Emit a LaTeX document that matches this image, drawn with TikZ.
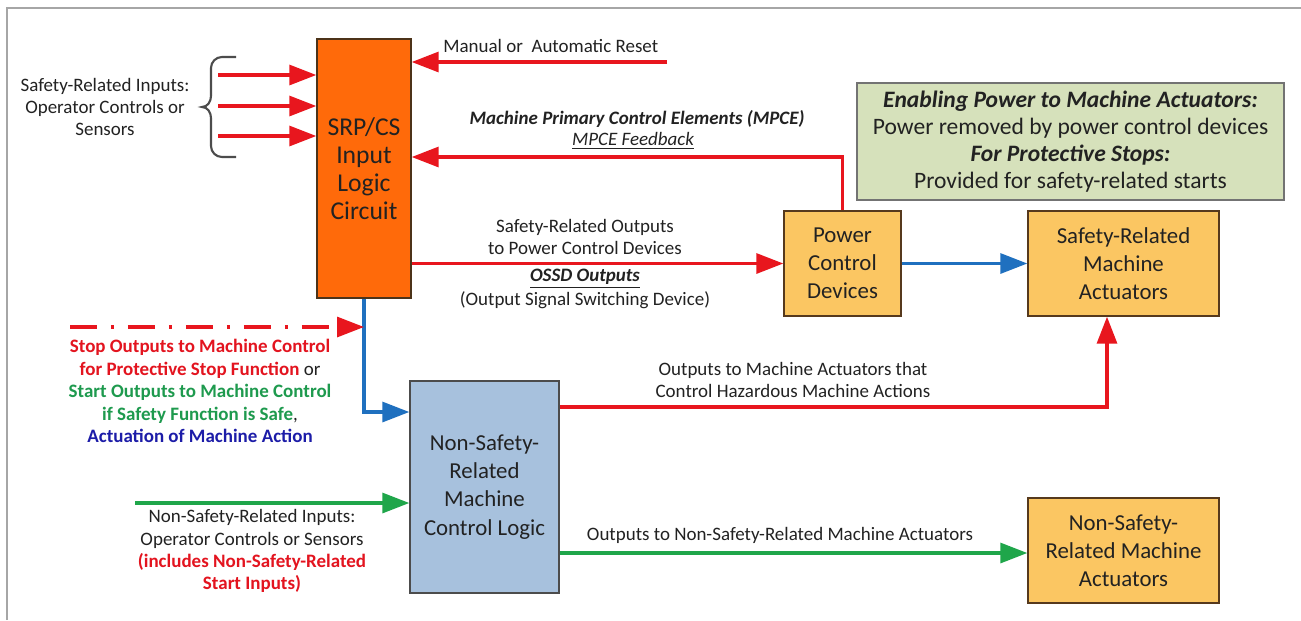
\documentclass[tikz,border=0pt]{standalone}
\usepackage{fontspec}
\setmainfont{Carlito}
\usetikzlibrary{arrows.meta}
\definecolor{cred}{HTML}{E8161E}
\definecolor{cgreen}{HTML}{1FA64A}
\definecolor{cblue}{HTML}{1F70BF}
\definecolor{corange}{HTML}{FF6A0A}
\definecolor{cyellow}{HTML}{FBC662}
\definecolor{clblue}{HTML}{A7C1DD}
\definecolor{colive}{HTML}{D6E1BB}
\definecolor{ctxtred}{HTML}{E3141F}
\definecolor{ctxtgreen}{HTML}{1E9A4E}
\definecolor{ctxtblue}{HTML}{1C1CA8}
\definecolor{ctxt}{HTML}{222222}
\tikzset{
  box/.style={draw=black!75, line width=0.8pt, align=center, inner sep=0pt, text=ctxt,
    font=\fontsize{13}{16}\selectfont},
  lbl/.style={align=center, inner sep=0pt, text=ctxt, font=\fontsize{10.8}{12.6}\selectfont},
  conn/.style={line width=1.8pt, -{Triangle[length=0.54cm,width=0.4cm]}},
  redarrow/.style={conn, draw=cred},
  greenarrow/.style={conn, draw=cgreen},
  bluearrow/.style={conn, draw=cblue},
}
\begin{document}
\begin{tikzpicture}[x=0.02cm,y=-0.02cm]
\useasboundingbox (0,0) rectangle (1301,620);
\fill[white] (0,0) rectangle (1301,620);
\draw[black!35, line width=1pt] (7,620) -- (7,8) -- (1301,8);

% boxes
\node[box, fill=corange, draw=black!60!brown, minimum width=1.88cm, minimum height=5.18cm,
  font=\fontsize{14.6}{16}\selectfont] (srp) at (364,168.5) {SRP/CS\\Input\\Logic\\Circuit};
\node[box, fill=colive, draw=black!55, minimum width=8.54cm, minimum height=2.34cm,
  font=\fontsize{13.4}{15.3}\selectfont] (info) at (1070.5,141.5)
  {\textbf{\textit{Enabling Power to Machine Actuators:}}\\Power removed by power control devices\\\textbf{\textit{For Protective Stops:}}\\Provided for safety-related starts};
\node[box, fill=cyellow, draw=black!55!brown, minimum width=2.34cm, minimum height=2.1cm] (pcd) at (842.5,263.5) {Power\\Control\\Devices};
\node[box, fill=cyellow, draw=black!55!brown, minimum width=3.82cm, minimum height=2.1cm] (sra) at (1123.5,263.5) {Safety-Related\\Machine\\Actuators};
\node[box, fill=clblue, draw=black!70, minimum width=2.98cm, minimum height=4.24cm] (nsl) at (484.5,487) {Non-Safety-\\Related\\Machine\\Control Logic};
\node[box, fill=cyellow, draw=black!55!brown, minimum width=3.82cm, minimum height=2.1cm] (nsa) at (1123.5,550.5) {Non-Safety-\\Related Machine\\Actuators};

% safety-related inputs
\node[lbl] (sri) at (105,107) {Safety-Related Inputs:\\Operator Controls or\\Sensors};
\draw[black!70, line width=1.2pt] (236,57) -- (222,57) to[out=180,in=90] (211,68) -- (211,96)
  to[out=-90,in=0] (202,107) to[out=0,in=90] (211,118) -- (211,146) to[out=-90,in=180] (222,157) -- (236,157);
\coordinate (in1) at (218,75);
\coordinate (in2) at (218,106);
\coordinate (in3) at (218,136);
\draw[redarrow] (in1) -- (in1 -| srp.west);
\draw[redarrow] (in2) -- (in2 -| srp.west);
\draw[redarrow] (in3) -- (in3 -| srp.west);

% reset
\coordinate (rst) at (667,62);
\draw[redarrow] (rst) -- (rst -| srp.east);
\node[lbl, anchor=west] (rstl) at (443,46) {Manual or\ \ Automatic Reset};

% MPCE feedback
\coordinate (fb) at (0,157);
\draw[redarrow] (pcd.north) |- (fb -| srp.east);
\node[lbl] (mpce) at (637,119) {\textbf{\textit{Machine Primary Control Elements (MPCE)}}};
\node[lbl] (mpcef) at (633,141) {\textit{\underline{MPCE Feedback}}};

% SRP -> power control
\draw[redarrow] (srp.east |- pcd) -- (pcd.west);
\node[lbl] (sro) at (585,237) {Safety-Related Outputs\\to Power Control Devices};
\node[lbl] (ossd) at (585,279) {\textbf{\textit{\underline{OSSD Outputs}}}};
\node[lbl] (osd) at (585,300) {(Output Signal Switching Device)};

% power control -> safety actuators
\draw[bluearrow] (pcd.east) -- (sra.west);

% SRP -> non-safety logic
\coordinate (bj) at (0,412);
\draw[bluearrow] (srp.south) |- (bj -| nsl.west);

% dash-dot stop outputs
\coordinate (ds) at (70,327);
\draw[cred, line width=1.8pt, dash pattern=on 0.54cm off 0.28cm on 0.06cm off 0.28cm,
  -{Triangle[length=0.54cm,width=0.4cm,sep=0pt]}] (ds) -- (ds -| srp.south);
\node[align=center, inner sep=0pt, font=\fontsize{10.8}{12.75}\selectfont\bfseries] (stop) at (200,391)
  {\textcolor{ctxtred}{Stop Outputs to Machine Control}\\
   \textcolor{ctxtred}{for Protective Stop Function} \textcolor{ctxt}{\mdseries or}\\
   \textcolor{ctxtgreen}{Start Outputs to Machine Control}\\
   \textcolor{ctxtgreen}{if Safety Function is Safe}\textcolor{ctxt}{\mdseries ,}\\
   \textcolor{ctxtblue}{Actuation of Machine Action}};

% non-safety logic -> safety actuators
\coordinate (rx) at (1107,407);
\draw[redarrow] (rx -| nsl.east) -| (rx |- sra.south);
\node[lbl] (haz) at (793,380) {Outputs to Machine Actuators that\\Control Hazardous Machine Actions};

% non-safety inputs
\coordinate (gi) at (135,503);
\draw[greenarrow] (gi) -- (gi -| nsl.west);
\node[lbl] (nsi) at (252,551) {Non-Safety-Related Inputs:\\Operator Controls or Sensors\\
  \textcolor{ctxtred}{\bfseries (includes Non-Safety-Related}\\\textcolor{ctxtred}{\bfseries Start Inputs)}};

% non-safety logic -> non-safety actuators
\coordinate (go) at (0,553);
\draw[greenarrow] (go -| nsl.east) -- (go -| nsa.west);
\node[lbl] (nso) at (780,535) {Outputs to Non-Safety-Related Machine Actuators};
\end{tikzpicture}
\end{document}
